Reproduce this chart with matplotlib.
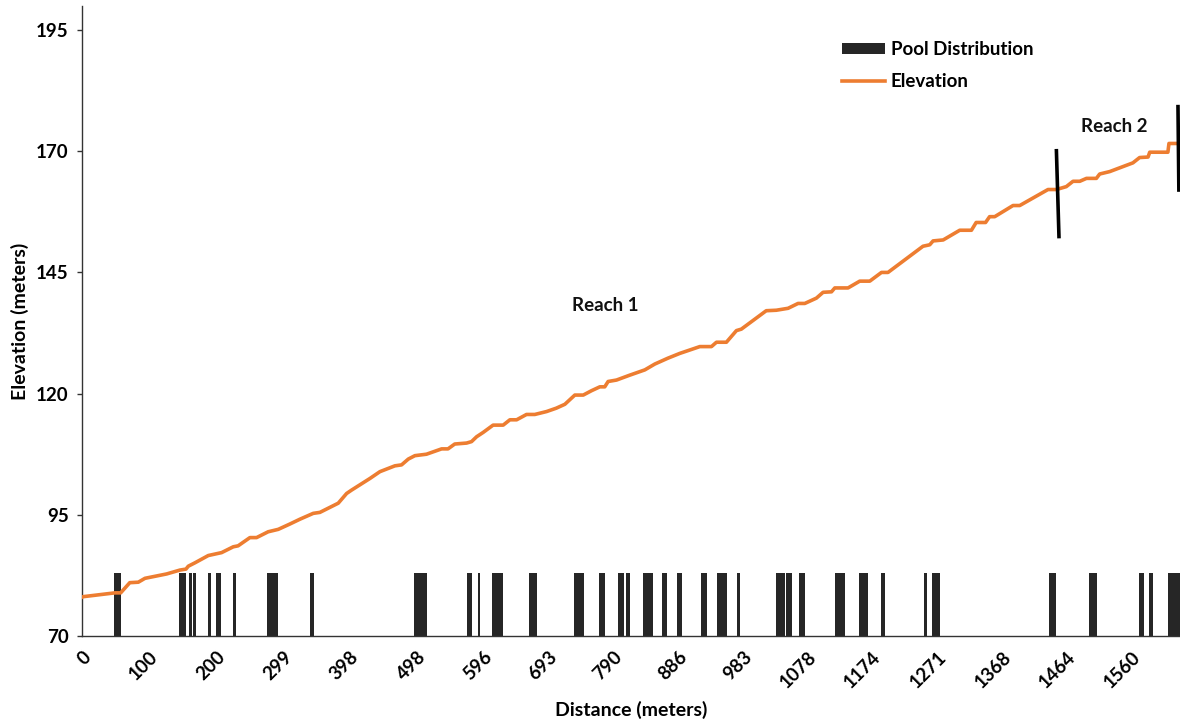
import matplotlib
matplotlib.use("Agg")
import matplotlib.pyplot as plt
from matplotlib.patches import Patch
from matplotlib.lines import Line2D

plt.rcParams['font.family'] = ['Lato', 'DejaVu Sans']

# Elevation profile (distance in meters, elevation in meters)
distance = [0, 1, 49, 57.5, 71, 83.7, 93.6, 125.8, 145.6, 154.5,
            158, 167.9, 187.7, 197.6, 207.5, 224.8, 232, 249.6, 259.5, 276.7,
            291.7, 309, 324, 343.7, 353.6, 380.9, 393.3, 400.7, 428, 442.8,
            465, 475, 485, 494.8, 512, 534.5, 544, 554, 571.6, 579,
            586.5, 596.3, 611, 626, 636, 646, 660.7, 673, 690.5, 705,
            717.7, 732.5, 745, 757.3, 769.7, 777, 782, 794.5, 814, 836.6,
            851.4, 870.7, 888.6, 918.3, 935.6, 943, 957.8, 972.7, 980, 1017,
            1032, 1049.5, 1064.3, 1074.3, 1091.6, 1101.5, 1114, 1118.9, 1138.6, 1156,
            1170.9, 1188.3, 1198, 1250, 1260, 1265, 1280, 1304.6, 1322, 1329,
            1343, 1349, 1356.6, 1383.8, 1393.8, 1435.8, 1448.3, 1463, 1473, 1483,
            1493, 1507.7, 1512.6, 1527.5, 1562, 1572, 1584.5, 1587, 1614, 1615.6,
            1631.5]
elevation = [78.0, 78.1, 78.9, 78.9, 81.0, 81.1, 81.9, 82.8, 83.6, 83.8,
             84.4, 85.1, 86.6, 86.9, 87.2, 88.4, 88.6, 90.3, 90.3, 91.5,
             92.0, 93.1, 94.1, 95.3, 95.5, 97.4, 99.4, 100.1, 102.5, 103.9,
             105.1, 105.3, 106.5, 107.2, 107.5, 108.6, 108.6, 109.6, 109.8, 110.1,
             111.1, 112.0, 113.5, 113.5, 114.6, 114.6, 115.7, 115.7, 116.3, 117.0,
             117.8, 119.7, 119.7, 120.6, 121.4, 121.4, 122.5, 122.8, 123.8, 124.9,
             126.1, 127.3, 128.3, 129.7, 129.7, 130.6, 130.6, 133.0, 133.3, 137.1,
             137.2, 137.6, 138.6, 138.6, 139.7, 140.9, 141.0, 141.8, 141.8, 143.2,
             143.2, 145.0, 145.0, 150.4, 150.7, 151.5, 151.7, 153.7, 153.7, 155.3,
             155.3, 156.5, 156.5, 158.8, 158.8, 162.1, 162.1, 162.7, 163.8, 163.8,
             164.4, 164.4, 165.3, 165.8, 167.6, 168.7, 168.8, 169.8, 169.8, 171.6,
             171.6]

# Pool distribution (start / end distance of each pool, meters)
pool_start = [47.5, 143.7, 158.5, 165.4, 187.2, 199.1, 224.8, 275.3, 338.8, 493.3,
              571.6, 588.9, 609.2, 664.6, 731.5, 768.7, 796.4, 808.2, 834.0, 861.8,
              884.1, 919.8, 944.5, 974.2, 1032.2, 1047.0, 1065.4, 1118.9, 1155.0, 1187.2,
              1251.1, 1264.0, 1436.8, 1496.7, 1571.5, 1586.4, 1614.1]
pool_end = [58.0, 154.5, 163.9, 168.9, 191.7, 207.0, 229.3, 291.7, 345.2, 512.6,
            579.5, 592.3, 625.1, 675.6, 745.4, 776.8, 805.8, 815.2, 848.4, 869.2,
            892.0, 929.1, 958.7, 978.0, 1044.6, 1054.9, 1074.3, 1134.8, 1169.0, 1193.5,
            1256.6, 1274.9, 1447.3, 1509.1, 1579.0, 1592.3, 1631.5]
pool_level = 83
axis_base = 70

x_ticks = [0, 100, 200, 299, 398, 498, 596, 693, 790, 886, 983, 1078, 1174,
           1271, 1368, 1464, 1560]
y_ticks = [70, 95, 120, 145, 170, 195]

# Reach boundaries (drawn marker lines) and labels
reach1_boundary_x = [1448.3, 1452.1]
reach1_boundary_y = [170.1, 152.4]
reach2_boundary_x = [1629.0, 1630.3]
reach2_boundary_y = [179.2, 162.0]
reach_labels = ["Reach 1", "Reach 2"]
reach_label_x = [777, 1535]
reach_label_y = [138.1, 175.2]

orange = '#ED7D31'
dark = '#262626'

fig = plt.figure(figsize=(11.8, 7.26), dpi=100)
ax = fig.add_axes([82/1180, 1-636/726, (1180-82)/1180, (636-5.8)/726])

widths = [e - s for s, e in zip(pool_start, pool_end)]
heights = [pool_level - axis_base] * len(pool_start)
ax.bar(pool_start, heights, width=widths, bottom=axis_base, align='edge',
       color=dark, edgecolor='none', zorder=2)
ax.plot(distance, elevation, color=orange, lw=2.6, zorder=3, solid_joinstyle='round')

ax.plot(reach1_boundary_x, reach1_boundary_y, color='black', lw=2.6, zorder=4)
ax.plot(reach2_boundary_x, reach2_boundary_y, color='black', lw=2.6, zorder=4, clip_on=False)
for t, x, y in zip(reach_labels, reach_label_x, reach_label_y):
    ax.text(x, y, t, ha='center', va='center', fontsize=13.5, fontweight='bold', color='#111111')

ax.set_xlim(0, 1632)
ax.set_ylim(70, 200)
ax.set_xticks(x_ticks)
ax.set_xticklabels([str(v) for v in x_ticks], rotation=45, ha='right',
                   rotation_mode='anchor', fontsize=13.5, fontweight='bold')
ax.set_yticks(y_ticks)
ax.set_yticklabels([str(v) for v in y_ticks], fontsize=13.5, fontweight='bold')
ax.tick_params(axis='x', length=0, pad=9)
ax.tick_params(axis='y', length=3.6, width=1, pad=6, color='#333333')

for s in ['top', 'right']:
    ax.spines[s].set_visible(False)
for s in ['left', 'bottom']:
    ax.spines[s].set_color('#333333')
    ax.spines[s].set_linewidth(1.0)

ax.set_xlabel('Distance (meters)', fontsize=14, fontweight='bold', labelpad=7)
ax.set_ylabel('Elevation (meters)', fontsize=14, fontweight='bold', labelpad=5)

handles = [Patch(facecolor=dark, edgecolor='none'),
           Line2D([0], [0], color=orange, lw=2.6)]
leg = fig.legend(handles, ['Pool Distribution', 'Elevation'], loc='upper left',
                 bbox_to_anchor=(825/1180, 1-24/726), frameon=False,
                 prop={'weight': 'bold', 'size': 13.5}, handlelength=2.3,
                 handleheight=0.53, handletextpad=0.32, labelspacing=0.8)

fig.savefig('out.png', dpi=100)
